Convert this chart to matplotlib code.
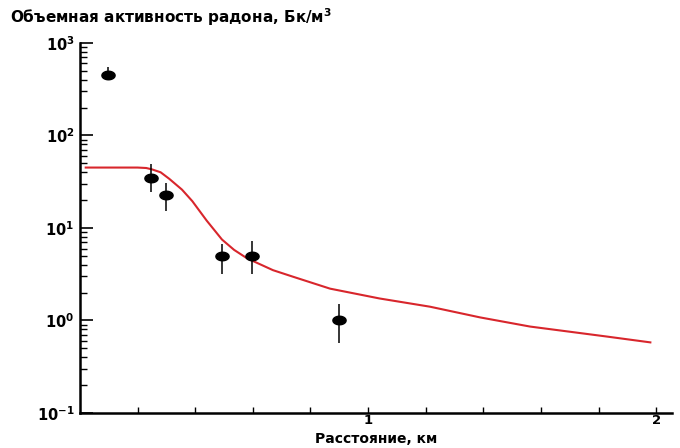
import matplotlib
matplotlib.use("Agg")
from matplotlib import pyplot as plt
from matplotlib.path import Path
from matplotlib.ticker import FixedLocator, LogLocator, NullFormatter
import numpy as np

plt.rcParams['font.family'] = ['DejaVu Sans']
plt.rcParams['mathtext.default'] = 'bf'
plt.rcParams['axes.unicode_minus'] = False

# измерения (расстояние, км / активность, Бк/м3)
dist = [0.097, 0.247, 0.30, 0.493, 0.597, 0.90]
activity = [450, 35, 22.6, 5.0, 5.0, 1.0]
act_low = [400, 24.4, 15.2, 3.2, 3.2, 0.57]
act_high = [550, 48.7, 31, 6.7, 7.2, 1.52]

# модельная кривая
curve_x = [0.02, 0.1, 0.2, 0.23, 0.25, 0.28, 0.31, 0.354, 0.39, 0.417, 0.44,
           0.47, 0.493, 0.535, 0.58, 0.67, 0.74, 0.868, 1.04, 1.215, 1.389,
           1.5625, 1.83, 1.98]
curve_y = [45, 45, 45, 44.5, 43, 40, 34, 26, 19.5, 15, 12, 9.2, 7.5, 5.8, 4.7,
           3.5, 2.97, 2.21, 1.73, 1.41, 1.08, 0.86, 0.67, 0.58]

# эллиптический маркер
t = np.linspace(0, 2 * np.pi, 40)
ellipse = Path(np.column_stack([np.cos(t), 0.65 * np.sin(t)]), closed=True)

fig = plt.figure(figsize=(6.8, 4.48), dpi=100)
ax = fig.add_axes([0.1176, 0.0781, 0.871, 0.826])

ax.plot(curve_x, curve_y, color='#d8262c', lw=1.5, zorder=2)

yerr = [np.array(activity) - np.array(act_low), np.array(act_high) - np.array(activity)]
ax.errorbar(dist, activity, yerr=yerr, fmt='none', ecolor='black', elinewidth=1.1,
            capsize=0, zorder=3)
ax.plot(dist, activity, ls='none', marker=ellipse, markersize=9.5, color='black', zorder=4)

ax.set_yscale('log')
ax.set_ylim(0.1, 1000)
ax.set_xlim(0, 2.056)

ax.xaxis.set_major_locator(FixedLocator([1, 2]))
ax.xaxis.set_minor_locator(FixedLocator([0.2, 0.4, 0.6, 0.8, 1.2, 1.4, 1.6, 1.8]))
ax.yaxis.set_major_locator(LogLocator(base=10))
ax.yaxis.set_minor_locator(LogLocator(base=10, subs=np.arange(2, 10)))
ax.yaxis.set_minor_formatter(NullFormatter())

for s in ['top', 'right']:
    ax.spines[s].set_visible(False)
for s in ['left', 'bottom']:
    ax.spines[s].set_linewidth(1.8)

ax.tick_params(axis='y', which='major', direction='in', length=9, width=1.2,
               labelsize=10.5, pad=4)
ax.tick_params(axis='y', which='minor', direction='in', length=5, width=1.0)
ax.tick_params(axis='x', which='both', direction='in', length=4, width=1.0,
               labelsize=9.5, pad=1)
for lab in ax.get_xticklabels() + ax.get_yticklabels():
    lab.set_fontweight('bold')

fig.text(0.015, 0.962, 'Объемная активность радона, Бк/м$^3$', fontsize=11,
         fontweight='bold', ha='left', va='center')
ax.set_xlabel('Расстояние, км', fontsize=10, fontweight='bold', labelpad=3)

fig.savefig('out.png', dpi=100)
